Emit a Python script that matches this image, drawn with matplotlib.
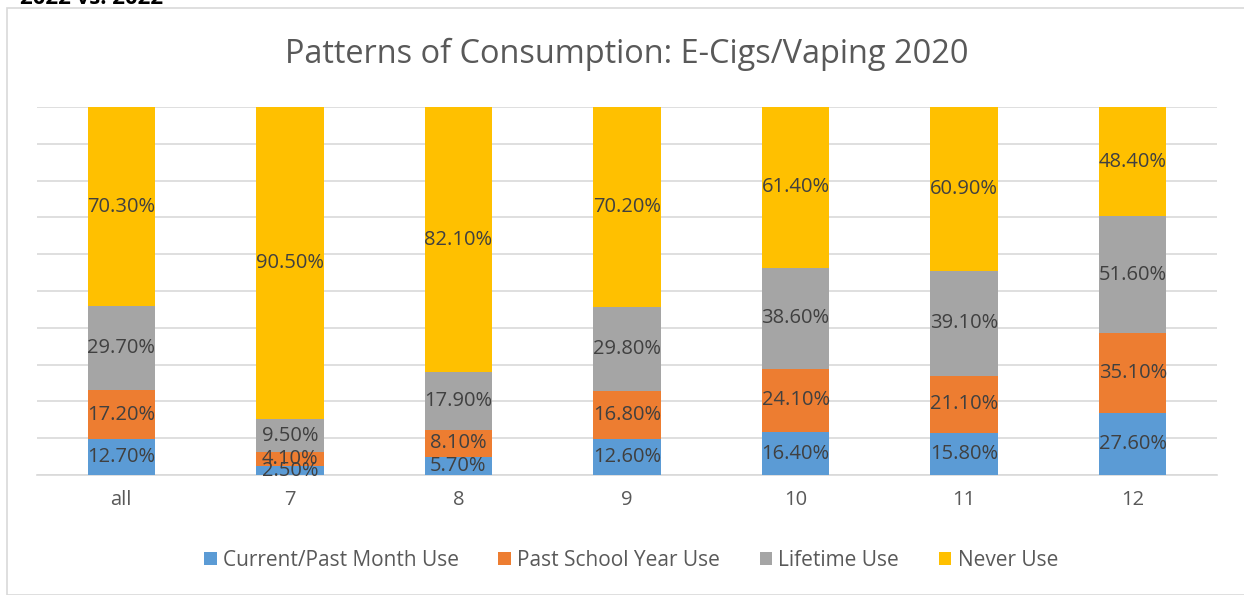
import matplotlib
matplotlib.use("Agg")
import matplotlib.pyplot as plt
from matplotlib.patches import Rectangle
import numpy as np

categories = ["all", "7", "8", "9", "10", "11", "12"]
series_names = ["Current/Past Month Use", "Past School Year Use", "Lifetime Use", "Never Use"]
current_month = [12.7, 2.5, 5.7, 12.6, 16.4, 15.8, 27.6]
past_school_year = [17.2, 4.1, 8.1, 16.8, 24.1, 21.1, 35.1]
lifetime = [29.7, 9.5, 17.9, 29.8, 38.6, 39.1, 51.6]
never = [70.3, 90.5, 82.1, 70.2, 61.4, 60.9, 48.4]
colors = ["#5b9bd5", "#ed7d31", "#a5a5a5", "#ffc000"]

plt.rcParams["font.family"] = ["Open Sans", "DejaVu Sans"]

fig = plt.figure(figsize=(12.44, 5.95), dpi=100)
W, H = 1244, 595

# chart frame
fig.patches.append(Rectangle((7 / W, 0), 1.2, (595 - 8) / H, transform=fig.transFigure,
                             fill=False, edgecolor="#d9d9d9", linewidth=1.2))
fig.text(20 / W, 1 - 4 / H, "2022 vs. 2022", fontsize=16, fontweight="bold",
         color="black", va="baseline", ha="left")

ax = fig.add_axes([37 / W, (595 - 475) / H, (1217 - 37) / W, (475 - 107) / H])

data = np.array([current_month, past_school_year, lifetime, never])
totals = data.sum(axis=0)
shares = data / totals * 100

x = np.arange(len(categories))
bottom = np.zeros(len(categories))
for name, vals, share, color in zip(series_names, data, shares, colors):
    ax.bar(x, share, width=0.4, bottom=bottom, color=color, label=name, zorder=3)
    for xi, b, s, v in zip(x, bottom, share, vals):
        ax.text(xi, b + s / 2, f"{v:.2f}%", ha="center", va="center",
                fontsize=14.5, color="#404040", zorder=4)
    bottom += share

ax.set_xlim(-0.5, len(categories) - 0.5)
ax.set_ylim(0, 100)
ax.set_yticks(np.arange(0, 101, 10))
ax.yaxis.grid(True, color="#d9d9d9", linewidth=1.2, zorder=0)
ax.tick_params(axis="y", left=False, labelleft=False)
ax.set_xticks(x)
ax.set_xticklabels(categories, fontsize=14.5, color="#595959")
ax.tick_params(axis="x", length=0, pad=11)
for side in ["top", "right", "left"]:
    ax.spines[side].set_visible(False)
ax.spines["bottom"].set_color("#d9d9d9")
ax.spines["bottom"].set_linewidth(1.2)

fig.text(627 / W, 1 - 54 / H, "Patterns of Consumption: E-Cigs/Vaping 2020",
         ha="center", va="center", fontsize=23.4, color="#595959")

handles, labels = ax.get_legend_handles_labels()
fig.legend(handles, labels, loc="center", bbox_to_anchor=(631 / W, 1 - 560 / H),
           ncol=4, frameon=False, fontsize=15, labelcolor="#595959",
           handlelength=0.6, handleheight=0.6, handletextpad=0.3, columnspacing=1.9)

fig.savefig("out.png", dpi=100)
